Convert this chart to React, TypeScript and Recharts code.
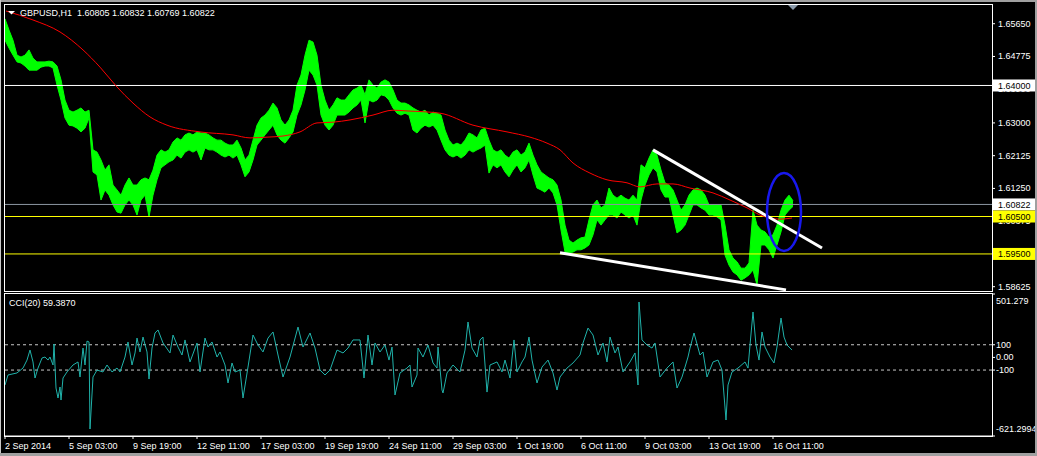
import React from 'react';
import { ComposedChart, Area, Line, XAxis, YAxis, ReferenceLine, ReferenceDot } from 'recharts';

const FONT = '"Liberation Sans", Arial, sans-serif';

// hour index of the tick (1 px per H1 bar) and its label
const timeTicks = [0, 64, 128, 192, 256, 320, 384, 448, 512, 576, 640, 704, 768];
const timeLabels = [
    '2 Sep 2014', '5 Sep 03:00', '9 Sep 19:00', '12 Sep 11:00', '17 Sep 03:00', '19 Sep 19:00',
    '24 Sep 11:00', '29 Sep 03:00', '1 Oct 19:00', '6 Oct 11:00', '9 Oct 03:00', '13 Oct 19:00', '16 Oct 11:00',
];

const priceTicks = [1.6565, 1.64775, 1.639, 1.63, 1.62125, 1.6125, 1.60375, 1.595, 1.58625];
const cciTicks = [501.279, 100, 0, -100, -621.2994];

// GBPUSD H1, high / low of each 4-bar group
const priceHigh = [
    1.6578, 1.6548, 1.6521, 1.6481, 1.6476, 1.6481, 1.6495, 1.6473, 1.6463, 1.6463,
    1.6463, 1.6465, 1.6463, 1.6452, 1.6415, 1.6361, 1.6334, 1.6329, 1.6334, 1.6340,
    1.6329, 1.6334, 1.6228, 1.6222, 1.6201, 1.6174, 1.6188, 1.6134, 1.6121, 1.6107,
    1.6134, 1.6153, 1.6134, 1.6134, 1.6148, 1.6153, 1.6148, 1.6174, 1.6214, 1.6228,
    1.6222, 1.6228, 1.6249, 1.6260, 1.6254, 1.6268, 1.6273, 1.6268, 1.6276, 1.6273,
    1.6273, 1.6268, 1.6260, 1.6254, 1.6254, 1.6246, 1.6241, 1.6241, 1.6254, 1.6233,
    1.6201, 1.6214, 1.6254, 1.6294, 1.6313, 1.6321, 1.6334, 1.6353, 1.6340, 1.6308,
    1.6294, 1.6308, 1.6334, 1.6401, 1.6428, 1.6481, 1.6521, 1.6516, 1.6481, 1.6401,
    1.6361, 1.6334, 1.6348, 1.6367, 1.6361, 1.6361, 1.6375, 1.6388, 1.6393, 1.6401,
    1.6375, 1.6415, 1.6401, 1.6393, 1.6409, 1.6415, 1.6409, 1.6388, 1.6361, 1.6353,
    1.6353, 1.6348, 1.6340, 1.6334, 1.6329, 1.6334, 1.6321, 1.6329, 1.6326, 1.6321,
    1.6281, 1.6254, 1.6241, 1.6246, 1.6241, 1.6254, 1.6273, 1.6268, 1.6260, 1.6281,
    1.6286, 1.6254, 1.6228, 1.6222, 1.6228, 1.6214, 1.6206, 1.6222, 1.6228, 1.6214,
    1.6222, 1.6246, 1.6214, 1.6188, 1.6169, 1.6161, 1.6153, 1.6148, 1.6134, 1.6094,
    1.6027, 1.5987, 1.5979, 1.5987, 1.5993, 1.5995, 1.6041, 1.6081, 1.6094, 1.6073,
    1.6081, 1.6126, 1.6107, 1.6099, 1.6107, 1.6099, 1.6094, 1.6107, 1.6094, 1.6188,
    1.6180, 1.6206, 1.6228, 1.6214, 1.6174, 1.6140, 1.6134, 1.6121, 1.6094, 1.6067,
    1.6081, 1.6107, 1.6121, 1.6126, 1.6121, 1.6107, 1.6081, 1.6081, 1.6081, 1.6081,
    1.6027, 1.5961, 1.5939, 1.5929, 1.5912, 1.5912, 1.5926, 1.6067, 1.6027, 1.6014,
    1.6009, 1.5995, 1.6001, 1.6027, 1.6067, 1.6094, 1.6107, 1.6092,
];
const priceLow = [
    1.6521, 1.6500, 1.6481, 1.6463, 1.6460, 1.6452, 1.6441, 1.6441, 1.6441, 1.6449,
    1.6452, 1.6452, 1.6447, 1.6401, 1.6361, 1.6313, 1.6294, 1.6292, 1.6286, 1.6276,
    1.6286, 1.6313, 1.6169, 1.6161, 1.6094, 1.6121, 1.6107, 1.6081, 1.6062, 1.6059,
    1.6081, 1.6094, 1.6081, 1.6054, 1.6094, 1.6107, 1.6049, 1.6107, 1.6148, 1.6180,
    1.6188, 1.6196, 1.6201, 1.6214, 1.6206, 1.6222, 1.6228, 1.6222, 1.6228, 1.6201,
    1.6233, 1.6228, 1.6228, 1.6222, 1.6214, 1.6209, 1.6214, 1.6206, 1.6214, 1.6188,
    1.6156, 1.6169, 1.6201, 1.6241, 1.6254, 1.6268, 1.6281, 1.6294, 1.6268, 1.6254,
    1.6246, 1.6260, 1.6276, 1.6321, 1.6348, 1.6388, 1.6441, 1.6428, 1.6401, 1.6321,
    1.6294, 1.6281, 1.6294, 1.6321, 1.6321, 1.6321, 1.6329, 1.6340, 1.6348, 1.6361,
    1.6300, 1.6361, 1.6356, 1.6361, 1.6375, 1.6372, 1.6361, 1.6340, 1.6326, 1.6321,
    1.6326, 1.6321, 1.6281, 1.6273, 1.6286, 1.6294, 1.6289, 1.6294, 1.6281, 1.6254,
    1.6228, 1.6214, 1.6209, 1.6214, 1.6206, 1.6214, 1.6228, 1.6222, 1.6228, 1.6233,
    1.6241, 1.6166, 1.6188, 1.6180, 1.6188, 1.6169, 1.6156, 1.6174, 1.6188, 1.6169,
    1.6180, 1.6201, 1.6161, 1.6126, 1.6121, 1.6115, 1.6126, 1.6113, 1.6081, 1.6014,
    1.5955, 1.5953, 1.5955, 1.5961, 1.5961, 1.5966, 1.5974, 1.6001, 1.6041, 1.6027,
    1.6041, 1.6054, 1.6054, 1.6046, 1.6062, 1.6054, 1.6046, 1.6054, 1.6027, 1.6094,
    1.6134, 1.6161, 1.6180, 1.6169, 1.6121, 1.6102, 1.6102, 1.6054, 1.6006, 1.6014,
    1.6027, 1.6054, 1.6081, 1.6081, 1.6073, 1.6067, 1.6054, 1.6054, 1.6049, 1.6041,
    1.5947, 1.5920, 1.5902, 1.5894, 1.5880, 1.5886, 1.5894, 1.5907, 1.5867, 1.5974,
    1.5974, 1.5961, 1.5939, 1.5974, 1.6009, 1.6054, 1.6067, 1.6077,
];

// red moving average
const maTime = [
    1, 28, 55, 78, 95, 112, 128, 145, 162, 195, 228, 245, 262, 278, 295, 312, 328, 345, 368, 388,
    402, 435, 468, 502, 525, 542, 555, 568, 585, 602, 622, 635, 652, 668, 685, 708, 725, 742, 755, 765,
    775, 787,
];
const maValue = [
    1.6599, 1.6575, 1.6543, 1.6495, 1.6449, 1.6396, 1.6353, 1.6316, 1.6294, 1.6276,
    1.6268, 1.6260, 1.6262, 1.6265, 1.6276, 1.6300, 1.6302, 1.6308, 1.6321, 1.6334,
    1.6332, 1.6326, 1.6294, 1.6276, 1.6262, 1.6246, 1.6228, 1.6193, 1.6166, 1.6148,
    1.6140, 1.6129, 1.6137, 1.6137, 1.6126, 1.6113, 1.6094, 1.6073, 1.6054, 1.6046,
    1.6043, 1.6046,
];

// CCI(20)
const cciTime = [
    0, 3, 12, 18, 22, 25, 28, 30, 33, 37, 40, 43, 45, 48, 49, 51, 53, 55, 56, 58,
    62, 68, 73, 75, 78, 80, 82, 84, 85, 88, 92, 98, 102, 107, 112, 115, 120, 123, 127, 130,
    132, 135, 138, 142, 144, 147, 150, 153, 158, 165, 168, 173, 177, 180, 185, 192, 195, 200, 203, 207,
    212, 215, 220, 223, 227, 230, 235, 238, 243, 248, 253, 258, 263, 268, 273, 278, 285, 293, 298, 305,
    310, 315, 320, 325, 332, 338, 343, 348, 355, 359, 363, 367, 370, 375, 380, 384, 387, 390, 395, 402,
    405, 407, 412, 413, 418, 423, 428, 432, 433, 437, 438, 442, 448, 455, 460, 463, 467, 472, 475, 478,
    482, 485, 492, 497, 500, 505, 507, 509, 512, 517, 520, 524, 527, 532, 537, 543, 548, 552, 555, 562,
    568, 575, 578, 583, 588, 593, 598, 602, 605, 610, 613, 618, 625, 630, 633, 634, 637, 642, 647, 650,
    655, 662, 668, 672, 677, 683, 685, 689, 695, 698, 702, 708, 713, 717, 721, 723, 727, 733, 740, 743,
    745, 748, 751, 754, 757, 760, 765, 769, 772, 776, 779, 782, 787,
];
const cciValue = [
    -218, -139, -123, -84, -21, 58, -36, -163, -84, -5, 3, -21, 3, -60, 106, -242, -321, -234, -337, -163,
    -115, -60, -36, -155, 74, -60, 129, 122, -566, -155, -100, -115, -60, -115, -84, -115, 3, 122, -60, 35,
    153, 43, 161, 43, -171, 74, 193, 217, 114, 35, 177, 82, 19, 138, -36, 114, -115, 153, 82, 122,
    3, 43, -60, -202, -44, -115, -100, -321, -76, 177, 98, 43, 153, 201, 19, -155, 3, 240, 82, 193,
    74, -100, -139, -100, 58, 35, 74, 138, 138, -163, 177, -60, 114, 43, 98, -21, 82, -297, -123, -84,
    -60, -234, -139, 74, 3, 98, -44, -84, 82, -258, -281, -123, -60, -115, 58, 280, 74, 3, 138, 161,
    -274, -60, -36, -115, -21, -163, -5, 138, -115, -36, 3, 161, -21, -202, -76, -21, -123, -258, -155, -84,
    -44, 19, 114, 232, 177, 19, 114, -36, 161, 35, 82, -115, -36, 35, -218, 438, 138, 98, 74, 114,
    -155, -84, -36, -242, -155, 3, 74, 193, 19, 43, -155, -36, -21, -100, -495, -218, -115, -84, -36, -84,
    98, 359, 98, -21, 201, 82, 3, -44, 82, 311, 161, 98, 58,
];

// drawn objects: [hour, price]
const trendUpper = [[648, 1.6228], [817, 1.5966]];
const trendLower = [[555, 1.5953], [781, 1.5854]];
const ellipseCenter = [779, 1.6062];

const priceData = priceHigh.map((h, k) => ({ t: k * 4, range: [priceLow[k], h] }));
const maData = maTime.map((t, i) => ({ t, v: maValue[i] }));
const cciData = cciTime.map((t, i) => ({ t, v: cciValue[i] }));

const PRICE_DOMAIN: [number, number] = [1.5851, 1.6615];

const PriceTick = (props: any) => {
    const { x, y, payload } = props;
    return (
        <g>
            <line x1={x} x2={x + 3} y1={y} y2={y} stroke="#fff" />
            <text x={x + 6} y={y + 3} fill="#fff" fontSize={9} fontFamily={FONT}>
                {Number(payload.value).toFixed(5)}
            </text>
        </g>
    );
};

const CciTick = (props: any) => {
    const { x, y, payload, index } = props;
    const v = Number(payload.value);
    const shift = index === 0 ? 7 : index === cciTicks.length - 1 ? -7 : 0;
    const txt = v === 0 ? '0.00' : String(v);
    return (
        <g>
            <line x1={x} x2={x + 3} y1={y} y2={y} stroke="#fff" />
            <text x={x + 4} y={y + 3 + shift} fill="#fff" fontSize={9} fontFamily={FONT}>{txt}</text>
        </g>
    );
};

const TimeTick = (props: any) => {
    const { x, y, index } = props;
    return (
        <g>
            <line x1={x} x2={x} y1={y} y2={y + 3} stroke="#fff" />
            <text x={x} y={y + 13} fill="#fff" fontSize={9} fontFamily={FONT}>{timeLabels[index]}</text>
        </g>
    );
};

const PriceTag = (props: any) => {
    const { viewBox, text, bg } = props;
    const x = viewBox.x + viewBox.width + 1;
    const y = viewBox.y;
    return (
        <g>
            <rect x={x} y={y - 6} width={43} height={12} fill={bg} />
            <text x={x + 5} y={y + 3.5} fill="#000" fontSize={9} fontFamily={FONT}>{text}</text>
        </g>
    );
};

const abs = (style: React.CSSProperties): React.CSSProperties => ({ position: 'absolute', ...style });

export default function App() {
    return (
        <div style={abs({ left: 0, top: 0, width: 1037, height: 456, background: '#000', overflow: 'hidden', fontFamily: FONT })}>
            {/* price bars + price scale */}
            <div style={abs({ left: 0, top: 0 })}>
                <ComposedChart width={1037} height={292} margin={{ top: 5, right: 0, bottom: 1, left: 5 }}>
                    <XAxis type="number" dataKey="t" domain={[0, 987]} hide allowDataOverflow />
                    <YAxis
                        orientation="right"
                        width={45}
                        domain={PRICE_DOMAIN}
                        ticks={priceTicks}
                        interval={0}
                        tick={<PriceTick />}
                        tickLine={false}
                        tickSize={0}
                        tickMargin={0}
                        axisLine={false}
                        allowDataOverflow
                    />
                    <Area
                        data={priceData}
                        dataKey="range"
                        type="linear"
                        stroke="#00ff00"
                        strokeWidth={1}
                        fill="#00ff00"
                        fillOpacity={1}
                        isAnimationActive={false}
                        dot={false}
                        activeDot={false}
                    />
                </ComposedChart>
            </div>

            {/* moving average, horizontal levels with price tags, drawn objects */}
            <div style={abs({ left: 0, top: 0 })}>
                <ComposedChart width={1037} height={292} margin={{ top: 5, right: 45, bottom: 1, left: 5 }}>
                    <XAxis type="number" dataKey="t" domain={[0, 987]} hide allowDataOverflow />
                    <YAxis domain={PRICE_DOMAIN} hide allowDataOverflow />
                    <ReferenceLine y={1.64} stroke="#fff" label={<PriceTag text="1.64000" bg="#fff" />} />
                    <ReferenceLine y={1.60822} stroke="#8c96a2" label={<PriceTag text="1.60822" bg="#fff" />} />
                    <ReferenceLine y={1.605} stroke="#ffff00" label={<PriceTag text="1.60500" bg="#ffff00" />} />
                    <ReferenceLine y={1.595} stroke="#ffff00" label={<PriceTag text="1.59500" bg="#ffff00" />} />
                    <Line
                        data={maData}
                        dataKey="v"
                        type="monotone"
                        stroke="#ff0000"
                        strokeWidth={1}
                        dot={false}
                        activeDot={false}
                        isAnimationActive={false}
                    />
                    <ReferenceLine
                        segment={[{ x: trendUpper[0][0], y: trendUpper[0][1] }, { x: trendUpper[1][0], y: trendUpper[1][1] }]}
                        stroke="#fff"
                        strokeWidth={3}
                        ifOverflow="visible"
                    />
                    <ReferenceLine
                        segment={[{ x: trendLower[0][0], y: trendLower[0][1] }, { x: trendLower[1][0], y: trendLower[1][1] }]}
                        stroke="#fff"
                        strokeWidth={3}
                        ifOverflow="visible"
                    />
                    <ReferenceDot
                        x={ellipseCenter[0]}
                        y={ellipseCenter[1]}
                        ifOverflow="visible"
                        shape={(p: any) => (
                            <ellipse cx={p.cx} cy={p.cy} rx={17} ry={39} fill="none" stroke="#1818ee" strokeWidth={2.5} />
                        )}
                    />
                </ComposedChart>
            </div>

            {/* CCI window */}
            <div style={abs({ left: 0, top: 289 })}>
                <ComposedChart width={1037} height={167} margin={{ top: 5, right: 0, bottom: 0, left: 5 }}>
                    <XAxis
                        type="number"
                        dataKey="t"
                        domain={[0, 987]}
                        ticks={timeTicks}
                        interval={0}
                        height={20}
                        tick={<TimeTick />}
                        tickLine={false}
                        tickSize={0}
                        tickMargin={0}
                        axisLine={{ stroke: '#fff' }}
                        allowDataOverflow
                    />
                    <YAxis
                        orientation="right"
                        width={45}
                        domain={[-621.2994, 501.279]}
                        ticks={cciTicks}
                        interval={0}
                        tick={<CciTick />}
                        tickLine={false}
                        tickSize={0}
                        tickMargin={0}
                        axisLine={false}
                        allowDataOverflow
                    />
                    <ReferenceLine y={100} stroke="#c8c8c8" strokeDasharray="3 3" />
                    <ReferenceLine y={-100} stroke="#c8c8c8" strokeDasharray="3 3" />
                    <Line
                        data={cciData}
                        dataKey="v"
                        type="linear"
                        stroke="#20b2aa"
                        strokeWidth={1}
                        dot={false}
                        activeDot={false}
                        isAnimationActive={false}
                    />
                </ComposedChart>
            </div>

            {/* panel frames */}
            <div style={abs({ left: 4, top: 4, width: 989, height: 288, border: '1px solid #fff', boxSizing: 'border-box', pointerEvents: 'none' })} />
            <div style={abs({ left: 4, top: 293, width: 989, height: 144, border: '1px solid #fff', boxSizing: 'border-box', pointerEvents: 'none' })} />

            {/* window edges */}
            <div style={abs({ left: 0, top: 0, width: 1037, height: 2, background: '#a0a0a0' })} />
            <div style={abs({ left: 0, top: 0, width: 1, height: 456, background: '#c8c8c8' })} />
            <div style={abs({ left: 1035, top: 0, width: 2, height: 456, background: '#a0a0a0' })} />
            <div style={abs({ left: 0, top: 453, width: 1037, height: 3, background: '#a0a0a0' })} />

            {/* header texts */}
            <svg style={abs({ left: 0, top: 0 })} width={1037} height={456}>
                <polygon points="8,11 15,11 11.5,14.5" fill="#fff" />
                <polygon points="788,5 798,5 793,10" fill="#8a9aaa" />
                <text x={20} y={16} fill="#fff" fontSize={9} fontFamily={FONT} style={{ whiteSpace: 'pre' }}>
                    {'GBPUSD,H1  1.60805 1.60832 1.60769 1.60822'}
                </text>
                <text x={9} y={306} fill="#fff" fontSize={9} fontFamily={FONT}>CCI(20) 59.3870</text>
            </svg>
        </div>
    );
}
